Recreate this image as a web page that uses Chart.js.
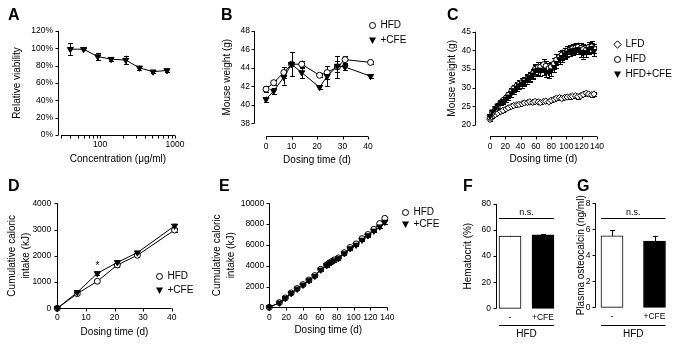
<!DOCTYPE html>
<html>
<head>
<meta charset="utf-8">
<title>Figure</title>
<script src="https://cdn.jsdelivr.net/npm/chart.js@4.4.1/dist/chart.umd.min.js"></script>
<style>
  body { margin: 0; background: #fff; }
  #fig { position: relative; width: 683px; height: 344px; overflow: hidden; font-family: Arial, "Liberation Sans", sans-serif; color: #000; }
  #fig canvas { position: absolute; left: 0; top: 0; }
  .letter { position: absolute; font-size: 16px; font-weight: bold; line-height: 16px; }
  .leg { position: absolute; font-size: 10px; line-height: 12px; white-space: nowrap; }
</style>
</head>
<body>
<div id="fig">
  <canvas id="chartA" width="683" height="344"></canvas>
  <canvas id="chartB" width="683" height="344"></canvas>
  <canvas id="chartC" width="683" height="344"></canvas>
  <canvas id="chartD" width="683" height="344"></canvas>
  <canvas id="chartE" width="683" height="344"></canvas>
  <canvas id="chartF" width="683" height="344"></canvas>
  <canvas id="chartG" width="683" height="344"></canvas>
  <div class="letter" style="left:8px;top:7px">A</div>
  <div class="letter" style="left:221px;top:7px">B</div>
  <div class="letter" style="left:447px;top:7px">C</div>
  <div class="letter" style="left:8px;top:178px">D</div>
  <div class="letter" style="left:219px;top:178px">E</div>
  <div class="letter" style="left:463px;top:178px">F</div>
  <div class="letter" style="left:577px;top:178px">G</div>
</div>
<script>
// ---- data ----
// A: cell viability vs concentration
var concA = [40, 60, 93, 140, 220, 335, 510, 780];
var viabA = [99, 99, 90.5, 87.5, 86.5, 77.5, 73, 74.5];
var viabErrA = [7, 1, 4, 2.5, 5, 2.5, 1.5, 1.5];
var xTicksA = [30, 40, 50, 60, 70, 80, 90, 100, 200, 300, 400, 500, 600, 700, 800, 900, 1000];

// B: mouse weight, 41 days
var daysB = [0, 3, 7, 10, 14, 21, 24, 28, 31, 41];
var hfdB = [41.7, 42.4, 43.5, 44.4, 44.4, 43.2, 43.5, 44.1, 44.9, 44.6];
var hfdErrB = [0.3, 0.3, 0.6, 1.3, 0.4, 0.2, 0.7, 1.2, 0.4, 0.2];
var cfeB = [40.6, 41.5, 43.0, 44.4, 43.5, 41.9, 43.1, 44.2, 44.1, 43.1];
var cfeErrB = [0.3, 0.3, 0.8, 1.3, 0.6, 0.2, 1.1, 0.6, 0.3, 0.2];

// C: mouse weight, 140 days
var daysC = [0, 3, 7, 10, 14, 17, 21, 24, 28, 31, 35, 38, 42, 45, 49, 52, 56, 59, 63, 66,
             70, 73, 77, 80, 84, 87, 91, 94, 98, 101, 105, 108, 112, 115, 119, 122, 126, 129, 133, 136];
var lfdC = [21.5, 22.3, 22.8, 23.2, 23.6, 23.9, 24.3, 24.6, 25.0, 25.2, 25.4, 25.5, 25.7, 25.9, 26.0, 26.2, 26.1, 26.3, 26.2, 26.0,
            26.3, 26.4, 26.2, 26.6, 26.9, 27.2, 27.3, 27.1, 27.4, 27.5, 27.6, 27.7, 27.8, 27.6, 27.9, 28.2, 28.5, 28.3, 28.1, 28.3];
var lfdErrC = [0.3, 0.3, 0.3, 0.3, 0.3, 0.3, 0.3, 0.3, 0.4, 0.4, 0.4, 0.4, 0.4, 0.4, 0.4, 0.4, 0.4, 0.4, 0.4, 0.4,
               0.4, 0.4, 0.4, 0.4, 0.4, 0.4, 0.4, 0.4, 0.5, 0.5, 0.5, 0.5, 0.5, 0.5, 0.5, 0.5, 0.5, 0.5, 0.5, 0.5];
var hfdC = [22.0, 23.3, 24.2, 25.0, 26.0, 26.6, 27.3, 28.0, 29.0, 29.8, 30.5, 31.0, 31.5, 31.8, 32.5, 33.0, 33.8, 35.0, 35.5, 35.6,
            36.2, 35.8, 35.2, 35.6, 36.5, 37.5, 38.3, 38.8, 39.3, 39.8, 40.2, 40.5, 40.7, 40.9, 40.6, 40.3, 40.2, 40.8, 41.0, 40.5];
var hfdErrC = [0.5, 0.5, 0.5, 0.6, 0.6, 0.7, 0.7, 0.8, 0.8, 0.9, 0.9, 1.0, 1.0, 1.0, 1.1, 1.1, 1.2, 1.3, 1.3, 1.3,
               1.4, 1.3, 1.3, 1.3, 1.4, 1.4, 1.4, 1.4, 1.4, 1.3, 1.3, 1.3, 1.2, 1.2, 1.3, 1.3, 1.3, 1.4, 1.4, 1.3];
var cfeC = [22.4, 23.6, 24.5, 25.2, 26.0, 26.4, 27.0, 27.6, 28.5, 29.3, 30.0, 30.6, 31.0, 31.5, 32.2, 32.8, 33.5, 34.6, 34.8, 34.5,
            34.8, 34.2, 34.0, 34.6, 35.5, 36.6, 37.6, 38.2, 38.9, 39.4, 39.8, 40.0, 40.1, 40.3, 39.6, 39.2, 39.5, 40.3, 40.6, 39.8];
var cfeErrC = [0.5, 0.5, 0.6, 0.6, 0.7, 0.7, 0.8, 0.8, 0.9, 0.9, 1.0, 1.0, 1.0, 1.1, 1.1, 1.2, 1.3, 1.4, 1.5, 1.5,
               1.5, 1.4, 1.4, 1.4, 1.4, 1.4, 1.3, 1.3, 1.3, 1.3, 1.2, 1.2, 1.2, 1.2, 1.4, 1.4, 1.4, 1.3, 1.3, 1.3];

// D: cumulative caloric intake, 41 days
var daysD = [0, 7, 14, 21, 28, 41];
var hfdD = [0, 560, 1030, 1650, 2020, 2980];
var hfdErrD = [0, 40, 40, 60, 60, 80];
var cfeD = [0, 610, 1330, 1750, 2120, 3140];
var cfeErrD = [0, 40, 70, 60, 60, 80];

// E: cumulative caloric intake, 140 days
var daysE = [0, 12, 19, 26, 33, 40, 47, 54, 61, 68, 71, 74, 77, 82, 89, 96, 103, 110, 117, 124, 131, 137];
var hfdE = [0, 450, 900, 1380, 1800, 2180, 2620, 3050, 3650, 4070, 4250, 4400, 4550, 4750, 5250, 5750, 6100, 6600, 7000, 7500, 8050, 8550];
var hfdErrE = [0, 60, 80, 80, 90, 90, 100, 100, 110, 110, 110, 110, 120, 120, 130, 130, 140, 140, 150, 150, 160, 170];
var cfeE = [0, 430, 880, 1350, 1770, 2150, 2580, 3000, 3600, 4020, 4200, 4350, 4500, 4700, 5180, 5650, 6000, 6480, 6900, 7350, 7750, 8200];
var cfeErrE = [0, 60, 80, 80, 90, 90, 100, 100, 110, 110, 110, 110, 120, 120, 130, 130, 140, 140, 150, 150, 160, 170];

// F, G: bar panels
var groupsFG = ['-', '+CFE'];
var hctF = [55.3, 56.4];
var hctErrF = [0.4, 0.4];
var ocG = [5.5, 5.1];
var ocErrG = [0.45, 0.4];

// ---- drawing helpers ----
Chart.defaults.font.family = 'Arial, "Liberation Sans", Helvetica, sans-serif';
Chart.defaults.font.size = 8.5;
Chart.defaults.color = '#000';

// prism-like axes, error bars and annotations
var prism = {
  id: 'prism',
  beforeDatasetsDraw: function (chart) {
    var ctx = chart.ctx, ys = chart.scales.y;
    chart.data.datasets.forEach(function (ds, i) {
      if (!ds.errs) return;
      var meta = chart.getDatasetMeta(i);
      ctx.save();
      ctx.strokeStyle = '#000';
      ctx.lineWidth = 1;
      meta.data.forEach(function (el, j) {
        var d = ds.data[j];
        var v = (typeof d === 'object') ? d.y : d;
        var e = ds.errs[j];
        if (!e) return;
        var x = Math.round(el.x) + 0.5;
        var top = ys.getPixelForValue(v + e);
        var bot = ds.upOnly ? ys.getPixelForValue(v) : ys.getPixelForValue(v - e);
        var cap = ds.cap || 2.5;
        ctx.beginPath();
        ctx.moveTo(x, top); ctx.lineTo(x, bot);
        ctx.moveTo(x - cap, Math.round(top) + 0.5); ctx.lineTo(x + cap, Math.round(top) + 0.5);
        if (!ds.upOnly) { ctx.moveTo(x - cap, Math.round(bot) + 0.5); ctx.lineTo(x + cap, Math.round(bot) + 0.5); }
        ctx.stroke();
      });
      ctx.restore();
    });
  },
  afterDraw: function (chart, args, o) {
    var ctx = chart.ctx, ca = chart.chartArea, xs = chart.scales.x, ys = chart.scales.y;
    var tl = o.tick || 3;
    ctx.save();
    ctx.strokeStyle = '#000';
    ctx.fillStyle = '#000';
    ctx.lineWidth = 1;
    ctx.beginPath();
    // y axis
    var yx = Math.round(ca.left - (o.yGap || 0)) + 0.5;
    ctx.moveTo(yx, ys.getPixelForValue(ys.max));
    ctx.lineTo(yx, ys.getPixelForValue(ys.min));
    ys.ticks.forEach(function (t) {
      var p = Math.round(ys.getPixelForValue(t.value)) + 0.5;
      ctx.moveTo(yx - tl, p); ctx.lineTo(yx, p);
    });
    // x axis
    if (!o.noX) {
      var xy = Math.round(ca.bottom + (o.xGap || 0)) + 0.5;
      ctx.moveTo(xs.getPixelForValue(xs.min), xy);
      ctx.lineTo(xs.getPixelForValue(xs.max), xy);
      xs.ticks.forEach(function (t) {
        var p = Math.round(xs.getPixelForValue(t.value)) + 0.5;
        ctx.moveTo(p, xy); ctx.lineTo(p, xy + tl);
      });
    }
    ctx.stroke();
    // group line + significance bracket for bar panels
    if (o.groupY) {
      var x0 = xs.getPixelForValue(0) - o.half, x1 = xs.getPixelForValue(1) + o.half;
      ctx.beginPath();
      ctx.moveTo(x0, o.groupY + 0.5); ctx.lineTo(x1, o.groupY + 0.5);
      var sy = Math.round(ys.getPixelForValue(o.sig.value)) + 0.5;
      ctx.moveTo(x0, sy); ctx.lineTo(x1, sy);
      ctx.stroke();
      ctx.font = '9px Arial, "Liberation Sans", sans-serif';
      ctx.textAlign = 'center';
      ctx.textBaseline = 'bottom';
      ctx.fillText(o.sig.text, (x0 + x1) / 2, sy - 1);
    }
    if (o.marks) {
      ctx.font = '10px Arial, "Liberation Sans", sans-serif';
      ctx.textAlign = 'center';
      ctx.textBaseline = 'middle';
      o.marks.forEach(function (m) {
        ctx.fillText(m.text, xs.getPixelForValue(m.x), ys.getPixelForValue(m.y));
      });
    }
    ctx.restore();
  }
};
Chart.register(prism);

function pts(xs, ys) {
  return xs.map(function (x, i) { return { x: x, y: ys[i] }; });
}

function yScale(min, max, step, width, pad, title, lh, fmt) {
  return {
    min: min, max: max,
    ticks: { stepSize: step, padding: pad, callback: fmt || function (v) { return String(v); } },
    grid: { display: false, drawTicks: false },
    border: { display: false },
    title: { display: true, text: title, padding: 0, font: { size: 10, lineHeight: lh || 1.2 } },
    afterFit: function (s) { s.width = width; }
  };
}

function xScale(type, min, max, step, height, pad, title) {
  return {
    type: type, min: min, max: max,
    ticks: { stepSize: step, padding: pad, autoSkip: false, maxRotation: 0 },
    grid: { display: false, drawTicks: false },
    border: { display: false },
    title: { display: true, text: title, padding: 0, font: { size: 10 } },
    afterFit: function (s) { s.height = height; }
  };
}

var HFD = { pointStyle: 'circle', pointRadius: 3, pointBackgroundColor: '#fff' };
var CFE = { pointStyle: 'triangle', pointRotation: 180, pointRadius: 3.5, pointBackgroundColor: '#000' };
var LFD = { pointStyle: 'rectRot', pointRadius: 3.2, pointBackgroundColor: '#fff' };

function series(label, data, errs, style, extra) {
  return Object.assign({
    label: label, data: data, errs: errs,
    borderColor: '#000', borderWidth: 1,
    pointBorderColor: '#000', pointBorderWidth: 1,
    tension: 0, clip: false
  }, style, extra || {});
}

function baseOptions(padding, scales, prismOpts) {
  return {
    responsive: false,
    animation: false,
    events: [],
    layout: { padding: padding },
    scales: scales,
    plugins: { legend: { display: false }, tooltip: { enabled: false }, prism: prismOpts }
  };
}

// ---- A ----
var xA = xScale('logarithmic', 30, 1000, null, 30, 5, 'Concentration (\u03bcg/ml)');
xA.afterBuildTicks = function (s) { s.ticks = xTicksA.map(function (v) { return { value: v }; }); };
xA.ticks.callback = function (v) { return (v === 100 || v === 1000) ? String(v) : ''; };
new Chart(document.getElementById('chartA'), {
  type: 'line',
  data: { datasets: [series('viability', pts(concA, viabA), viabErrA, CFE)] },
  options: baseOptions({ top: 31, right: 508, bottom: 179, left: 11 }, {
    x: xA,
    y: yScale(0, 120, 20, 50, 8, 'Relative viability', 1.2, function (v) { return v + '%'; })
  }, { yGap: 3, xGap: 0 })
});

// ---- B ---- (first dataset is drawn on top)
new Chart(document.getElementById('chartB'), {
  type: 'line',
  data: { datasets: [
    series('+CFE', pts(daysB, cfeB), cfeErrB, CFE),
    series('HFD', pts(daysB, hfdB), hfdErrB, HFD)
  ] },
  options: baseOptions({ top: 31, right: 315, bottom: 178, left: 221 }, {
    x: xScale('linear', 0, 40, 10, 42.7, 18, 'Dosing time (d)'),
    y: yScale(38, 48, 2, 45, 16, 'Mouse weight (g)')
  }, { yGap: 12, xGap: 13 })
});

// ---- C ----
new Chart(document.getElementById('chartC'), {
  type: 'line',
  data: { datasets: [
    series('HFD+CFE', pts(daysC, cfeC), cfeErrC, CFE, { pointRadius: 3.2 }),
    series('HFD', pts(daysC, hfdC), hfdErrC, HFD, { pointRadius: 2.7 }),
    series('LFD', pts(daysC, lfdC), lfdErrC, LFD)
  ] },
  options: baseOptions({ top: 31.7, right: 86, bottom: 179, left: 446 }, {
    x: xScale('linear', 0, 140, 20, 40, 16.5, 'Dosing time (d)'),
    y: yScale(20, 45, 5, 44, 19, 'Mouse weight (g)')
  }, { yGap: 15, xGap: 11 })
});

// ---- D ----
new Chart(document.getElementById('chartD'), {
  type: 'line',
  data: { datasets: [
    series('+CFE', pts(daysD, cfeD), cfeErrD, CFE),
    series('HFD', pts(daysD, hfdD), hfdErrD, HFD)
  ] },
  options: baseOptions({ top: 203.3, right: 511.3, bottom: 5.7, left: 5.7 }, {
    x: xScale('linear', 0, 40, 10, 30, 4, 'Dosing time (d)'),
    y: yScale(0, 4000, 1000, 51.6, 6, ['Cumulative caloric', 'intake (kJ)'], 1.4)
  }, { yGap: 0, xGap: 0, marks: [{ x: 14, y: 1600, text: '*' }] })
});

// ---- E ----
new Chart(document.getElementById('chartE'), {
  type: 'line',
  data: { datasets: [
    series('+CFE', pts(daysE, cfeE), cfeErrE, CFE),
    series('HFD', pts(daysE, hfdE), hfdErrE, HFD)
  ] },
  options: baseOptions({ top: 203.3, right: 295.7, bottom: 8, left: 210.7 }, {
    x: xScale('linear', 0, 140, 20, 28.7, 5, 'Dosing time (d)'),
    y: yScale(0, 10000, 2000, 58.6, 5, ['Cumulative caloric', 'intake (kJ)'], 1.4)
  }, { yGap: 0, xGap: 0 })
});

// ---- F ----
var xF = xScale('category', undefined, undefined, null, 31.7, 4.2, 'HFD');
xF.offset = false;
new Chart(document.getElementById('chartF'), {
  type: 'bar',
  data: { labels: groupsFG, datasets: [{
    data: hctF, errs: hctErrF, upOnly: true,
    backgroundColor: ['#fff', '#000'], borderColor: '#000', borderWidth: 1, borderSkipped: false,
    barThickness: 22, clip: false
  }] },
  options: baseOptions({ top: 204, right: 140, bottom: 4, left: 462.3 }, {
    x: xF,
    y: yScale(0, 80, 20, 47.7, 19, 'Hematocrit (%)')
  }, { yGap: 14.3, noX: true, groupY: 325, half: 11, sig: { value: 69, text: 'n.s.' } })
});

// ---- G ----
var xG = xScale('category', undefined, undefined, null, 32.7, 4.2, 'HFD');
xG.offset = false;
new Chart(document.getElementById('chartG'), {
  type: 'bar',
  data: { labels: groupsFG, datasets: [{
    data: ocG, errs: ocErrG, upOnly: true,
    backgroundColor: ['#fff', '#000'], borderColor: '#000', borderWidth: 1, borderSkipped: false,
    barThickness: 22, clip: false
  }] },
  options: baseOptions({ top: 203.3, right: 28.5, bottom: 4, left: 575.7 }, {
    x: xG,
    y: yScale(0, 8, 2, 36.3, 21.5, 'Plasma osteocalcin (ng/ml)')
  }, { yGap: 17, noX: true, groupY: 325, half: 11, sig: { value: 6.85, text: 'n.s.' } })
});

// ---- legends ----
var fig = document.getElementById('fig');
var marks = {
  circle: '<circle cx="4.5" cy="4.5" r="3" fill="#fff" stroke="#000" stroke-width="1"/>',
  tri: '<polygon points="1,1.5 8,1.5 4.5,8" fill="#000"/>',
  dia: '<polygon points="4.5,0.8 8.2,4.5 4.5,8.2 0.8,4.5" fill="#fff" stroke="#000" stroke-width="1"/>'
};
function legend(x, y, shape, text) {
  var d = document.createElement('div');
  d.className = 'leg';
  d.style.left = (x - 4.5) + 'px';
  d.style.top = (y - 6) + 'px';
  d.innerHTML = '<svg width="9" height="9" style="position:absolute;left:0;top:1.5px">' + marks[shape] +
    '</svg><span style="position:absolute;left:13px;top:0">' + text + '</span>';
  fig.appendChild(d);
}
legend(372, 25, 'circle', 'HFD');
legend(372, 40, 'tri', '+CFE');
legend(617, 44, 'dia', 'LFD');
legend(617, 59, 'circle', 'HFD');
legend(617, 74, 'tri', 'HFD+CFE');
legend(159, 276, 'circle', 'HFD');
legend(159, 290, 'tri', '+CFE');
legend(405, 212, 'circle', 'HFD');
legend(405, 224, 'tri', '+CFE');
</script>
</body>
</html>
